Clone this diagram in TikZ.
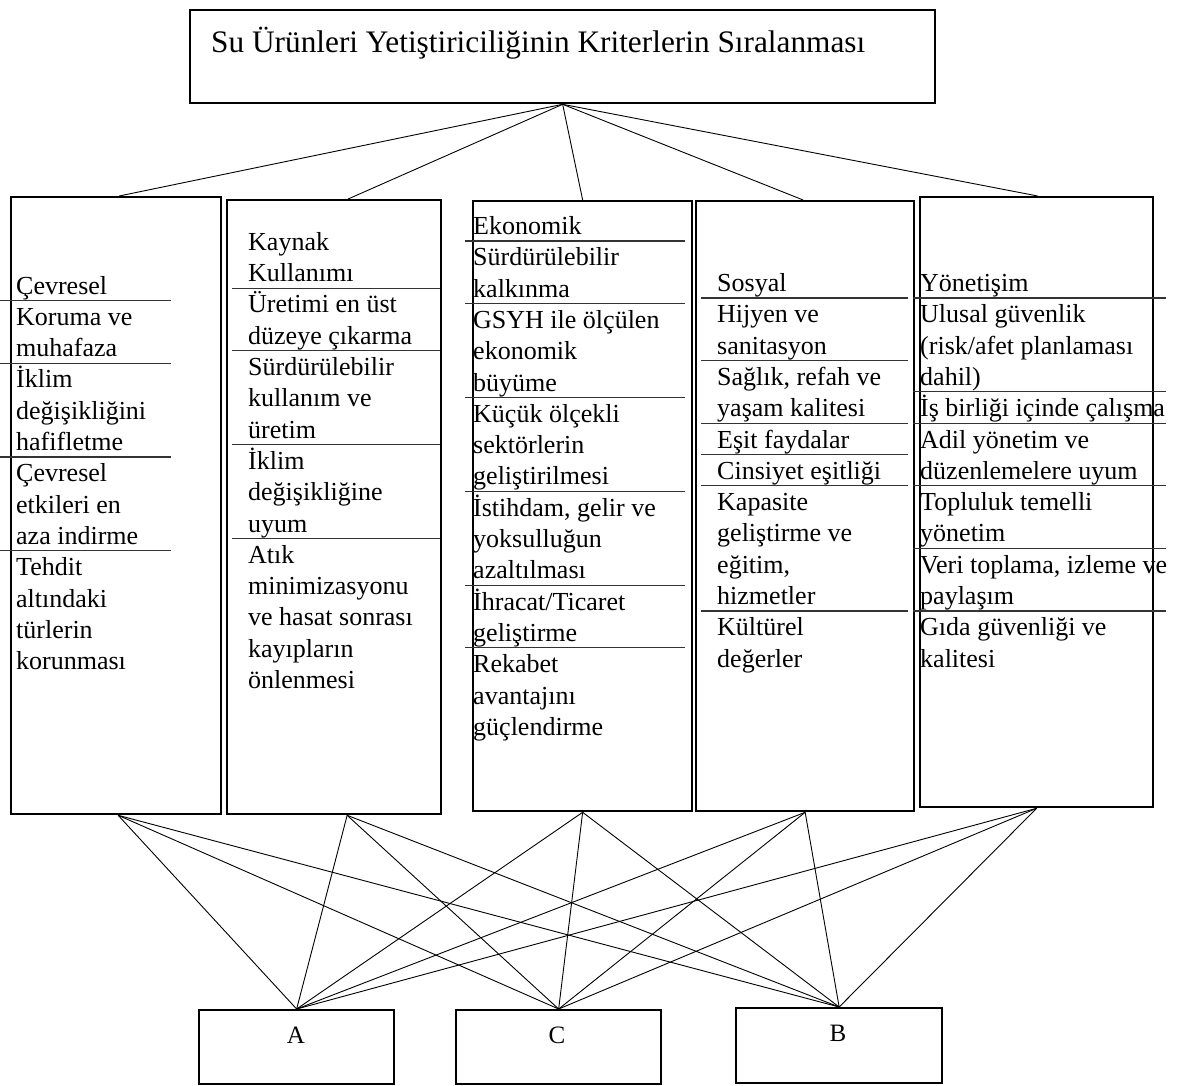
\documentclass[tikz,border=0pt]{standalone}
\usepackage{fontspec}
\setmainfont{Liberation Serif}
\begin{document}
\begin{tikzpicture}[x=1pt,y=-1pt,
  box/.style={draw, line width=2.3pt, inner sep=0pt, anchor=north west},
  conn/.style={line width=0.9pt},
  sepline/.style={line width=1.1pt, black!80},
  txt/.style={anchor=base west, inner sep=0pt, font=\fontsize{26}{31}\selectfont},
  letter/.style={anchor=base, inner sep=0pt, font=\fontsize{25}{30}\selectfont},
  ]
\fill[white] (0,0) rectangle (1188,1086);
\useasboundingbox (0,0) rectangle (1188,1086);

% top box
\node[box, minimum width=745, minimum height=93] (top) at (189,9) {};
\node[anchor=base west, inner sep=0pt, font=\fontsize{31.3}{37}\selectfont] (title) at (211,53)
  {Su Ürünleri Yetiştiriciliğinin Kriterlerin Sıralanması};

% column boxes
\node[box, minimum width=210, minimum height=617] (col1) at (10,196) {};
\node[box, minimum width=214, minimum height=614] (col2) at (226,199) {};
\node[box, minimum width=219, minimum height=610] (col3) at (472,200) {};
\node[box, minimum width=218, minimum height=610] (col4) at (695,200) {};
\node[box, minimum width=233, minimum height=610] (col5) at (919,196) {};

% bottom boxes
\node[box, minimum width=195, minimum height=74] (A) at (198,1009) {};
\node[box, minimum width=205, minimum height=74] (C) at (455,1009) {};
\node[box, minimum width=206, minimum height=75] (B) at (735,1007) {};
\node[letter] (Alab) at (296,1043) {A};
\node[letter] (Clab) at (557,1043) {C};
\node[letter] (Blab) at (838,1041) {B};

% column 1
\foreach \itm [count=\i] in {Çevresel, Koruma ve, muhafaza, İklim, değişikliğini, hafifletme, Çevresel, etkileri en, aza indirme, Tehdit, altındaki, türlerin, korunması}
  \node[txt] (c1-\i) at (16,{294+(\i-1)*31.3}) {\itm};
\foreach \k in {1,3,6,9}
  \draw[sepline] (0,{294+(\k-1)*31.3+6.5}) -- (171,{294+(\k-1)*31.3+6.5});

% column 2
\foreach \itm [count=\i] in {Kaynak, Kullanımı, Üretimi en üst, düzeye çıkarma, Sürdürülebilir, kullanım ve, üretim, İklim, değişikliğine, uyum, Atık, minimizasyonu, ve hasat sonrası, kayıpların, önlenmesi}
  \node[txt] (c2-\i) at (248,{250.3+(\i-1)*31.3}) {\itm};
\foreach \k in {2,4,7,10}
  \draw[sepline] (232,{250.3+(\k-1)*31.3+6.5}) -- (440,{250.3+(\k-1)*31.3+6.5});

% column 3
\foreach \itm [count=\i] in {Ekonomik, Sürdürülebilir, kalkınma, GSYH ile ölçülen, ekonomik, büyüme, Küçük ölçekli, sektörlerin, geliştirilmesi, {İstihdam, gelir ve}, yoksulluğun, azaltılması, İhracat/Ticaret, geliştirme, Rekabet, avantajını, güçlendirme}
  \node[txt] (c3-\i) at (473,{234.5+(\i-1)*31.3}) {\itm};
\foreach \k in {1,3,6,9,12,14}
  \draw[sepline] (465,{234.5+(\k-1)*31.3+6.5}) -- (685,{234.5+(\k-1)*31.3+6.5});

% column 4
\foreach \itm [count=\i] in {Sosyal, Hijyen ve, sanitasyon, {Sağlık, refah ve}, yaşam kalitesi, Eşit faydalar, Cinsiyet eşitliği, Kapasite, geliştirme ve, {eğitim,}, hizmetler, Kültürel, değerler}
  \node[txt] (c4-\i) at (717,{291.5+(\i-1)*31.3}) {\itm};
\foreach \k in {1,3,5,6,7,11}
  \draw[sepline] (701,{291.5+(\k-1)*31.3+6.5}) -- (908,{291.5+(\k-1)*31.3+6.5});

% column 5
\foreach \itm [count=\i] in {Yönetişim, Ulusal güvenlik, {(risk/afet planlaması}, {dahil)}, İş birliği içinde çalışma, Adil yönetim ve, düzenlemelere uyum, Topluluk temelli, yönetim, {Veri toplama, izleme ve}, paylaşım, Gıda güvenliği ve, kalitesi}
  \node[txt] (c5-\i) at (920,{291.5+(\i-1)*31.3}) {\itm};
\foreach \k in {1,4,5,7,9,11}
  \draw[sepline] (913,{291.5+(\k-1)*31.3+6.5}) -- (1166,{291.5+(\k-1)*31.3+6.5});

% connectors top
\foreach \c/\dx in {col1/3, col2/14, col3/0, col4/-2, col5/1}
  \draw[conn] (top.south) -- ([xshift=\dx pt]\c.north);

% connectors bottom
\foreach \c/\dx in {col1/2, col2/13, col3/0, col4/0, col5/0}
  \foreach \b in {A,C,B}
    \draw[conn] ([xshift=\dx pt]\c.south) -- (\b.north);
\end{tikzpicture}
\end{document}
